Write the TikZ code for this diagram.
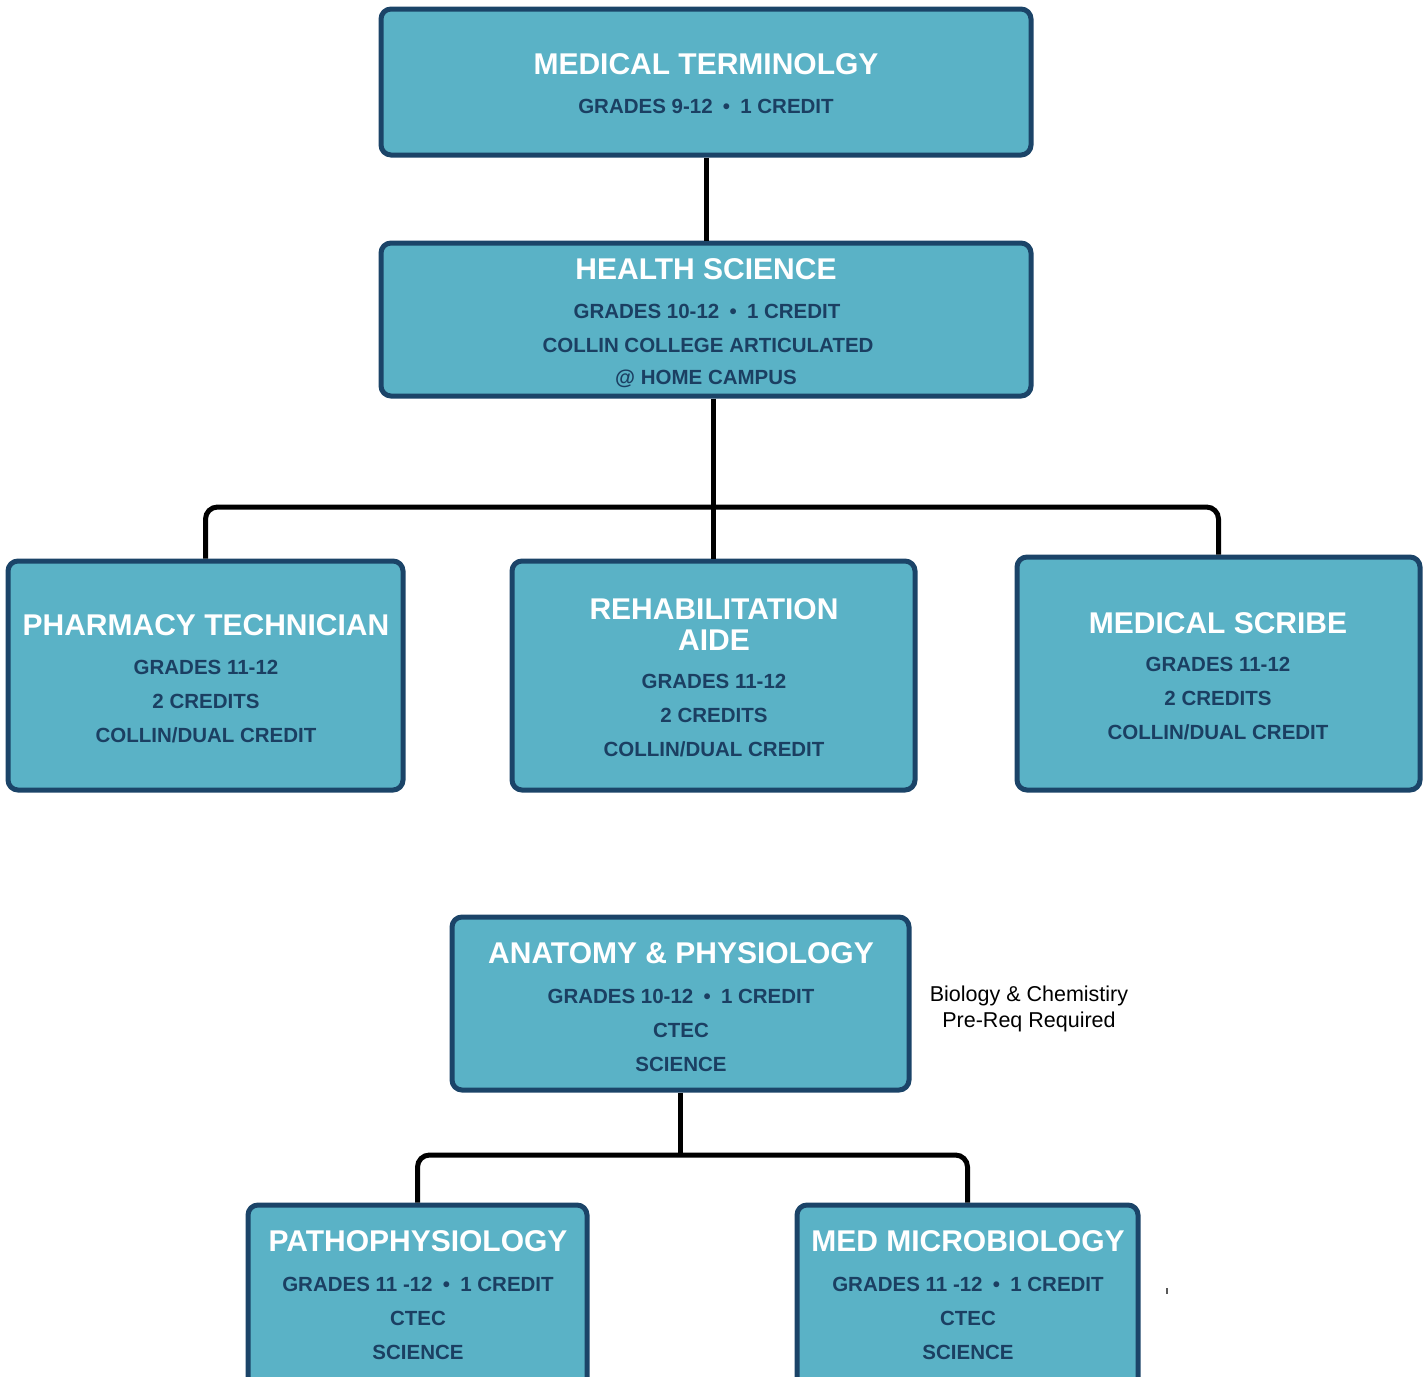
\documentclass[tikz,border=0pt]{standalone}
\usepackage{fontspec}
\setmainfont{Liberation Sans}
\newfontfamily\boxfont{Liberation Sans}
\usetikzlibrary{calc}
\definecolor{boxfill}{HTML}{5AB2C6}
\definecolor{boxedge}{HTML}{1B4468}
\definecolor{boxtext}{HTML}{1B3F62}
\tikzset{
  course/.style={draw=boxedge, fill=boxfill, line width=5pt, rounded corners=10pt, rectangle, inner sep=0pt},
  ttl/.style={text=white, font=\boxfont\bfseries\fontsize{30}{30}\selectfont, inner sep=0pt, anchor=center},
  info/.style={text=boxtext, font=\boxfont\bfseries\fontsize{20.5}{20.5}\selectfont, inner sep=0pt, anchor=center},
  conn/.style={draw=black, line width=5pt, rounded corners=12pt},
  note/.style={text=black, font=\fontsize{21.5}{21.5}\selectfont, inner sep=0pt, anchor=center}
}
\newcommand{\sep}{\hspace{0.5em}\textbullet\hspace{0.5em}}
\begin{document}
\begin{tikzpicture}[x=1pt,y=-1pt]
\useasboundingbox (0,0) rectangle (1424,1376);
% boxes
\node[course, minimum width=650pt, minimum height=146pt] (b1) at (706,82) {};
\node[course, minimum width=650pt, minimum height=153pt] (b2) at (706,319.5) {};
\node[course, minimum width=395pt, minimum height=229pt] (b3) at (205.5,675.5) {};
\node[course, minimum width=403pt, minimum height=229pt] (b4) at (713.5,675.5) {};
\node[course, minimum width=403pt, minimum height=233pt] (b5) at (1218.5,673.5) {};
\node[course, minimum width=457pt, minimum height=173pt] (b6) at (680.5,1003.5) {};
\node[course, minimum width=339pt, minimum height=195pt] (b7) at (417.5,1302.5) {};
\node[course, minimum width=341pt, minimum height=195pt] (b8) at (967.5,1302.5) {};
% connectors
\coordinate (j1) at (713.5,507);
\coordinate (j2) at (680.5,1155);
\draw[conn] (b1.south) -- (b2.north);
\draw[conn] (b4.north |- b2.south) -- (b4.north);
\draw[conn] (b3.north) |- (j1) -| (b5.north);
\draw[conn] (b6.south) -- (j2);
\draw[conn] (b7.north) |- (j2) -| (b8.north);
% texts box 1
\node[ttl] (t1) at (706,64) {MEDICAL TERMINOLGY};
\node[info] (t1a) at (706,106) {GRADES 9-12\sep 1 CREDIT};
% box 2
\node[ttl] (t2) at (706,269) {HEALTH SCIENCE};
\node[info] (t2a) at (707,311) {GRADES 10-12\sep 1 CREDIT};
\node[info] (t2b) at (708,345) {COLLIN COLLEGE ARTICULATED};
\node[info] (t2c) at (706,379) {@ HOME CAMPUS};
% box 3
\node[ttl] (t3) at (206,625) {PHARMACY TECHNICIAN};
\node[info] (t3a) at (206,667) {GRADES 11-12};
\node[info] (t3b) at (206,701) {2 CREDITS};
\node[info] (t3c) at (206,735) {COLLIN/DUAL CREDIT};
% box 4
\node[ttl] (t4) at (714,609) {REHABILITATION};
\node[ttl] (t4b) at (714,640) {AIDE};
\node[info] (t4c) at (714,681) {GRADES 11-12};
\node[info] (t4d) at (714,715) {2 CREDITS};
\node[info] (t4e) at (714,749) {COLLIN/DUAL CREDIT};
% box 5
\node[ttl] (t5) at (1218,623) {MEDICAL SCRIBE};
\node[info] (t5a) at (1218,664) {GRADES 11-12};
\node[info] (t5b) at (1218,698) {2 CREDITS};
\node[info] (t5c) at (1218,732) {COLLIN/DUAL CREDIT};
% box 6
\node[ttl] (t6) at (681,953) {ANATOMY \& PHYSIOLOGY};
\node[info] (t6a) at (681,996) {GRADES 10-12\sep 1 CREDIT};
\node[info] (t6b) at (681,1030) {CTEC};
\node[info] (t6c) at (681,1064) {SCIENCE};
% box 7
\node[ttl] (t7) at (418,1241) {PATHOPHYSIOLOGY};
\node[info] (t7a) at (418,1284) {GRADES 11 -12\sep 1 CREDIT};
\node[info] (t7b) at (418,1318) {CTEC};
\node[info] (t7c) at (418,1352) {SCIENCE};
% box 8
\node[ttl] (t8) at (968,1241) {MED MICROBIOLOGY};
\node[info] (t8a) at (968,1284) {GRADES 11 -12\sep 1 CREDIT};
\node[info] (t8b) at (968,1318) {CTEC};
\node[info] (t8c) at (968,1352) {SCIENCE};
% note
\node[note] (n1) at (1029,996) {Biology \& Chemistiry};
\node[note] (n2) at (1029,1022) {Pre-Req Required};
\draw[gray!70!black, line width=1.5pt] (1167,1288) -- (1167,1294);
\end{tikzpicture}
\end{document}
